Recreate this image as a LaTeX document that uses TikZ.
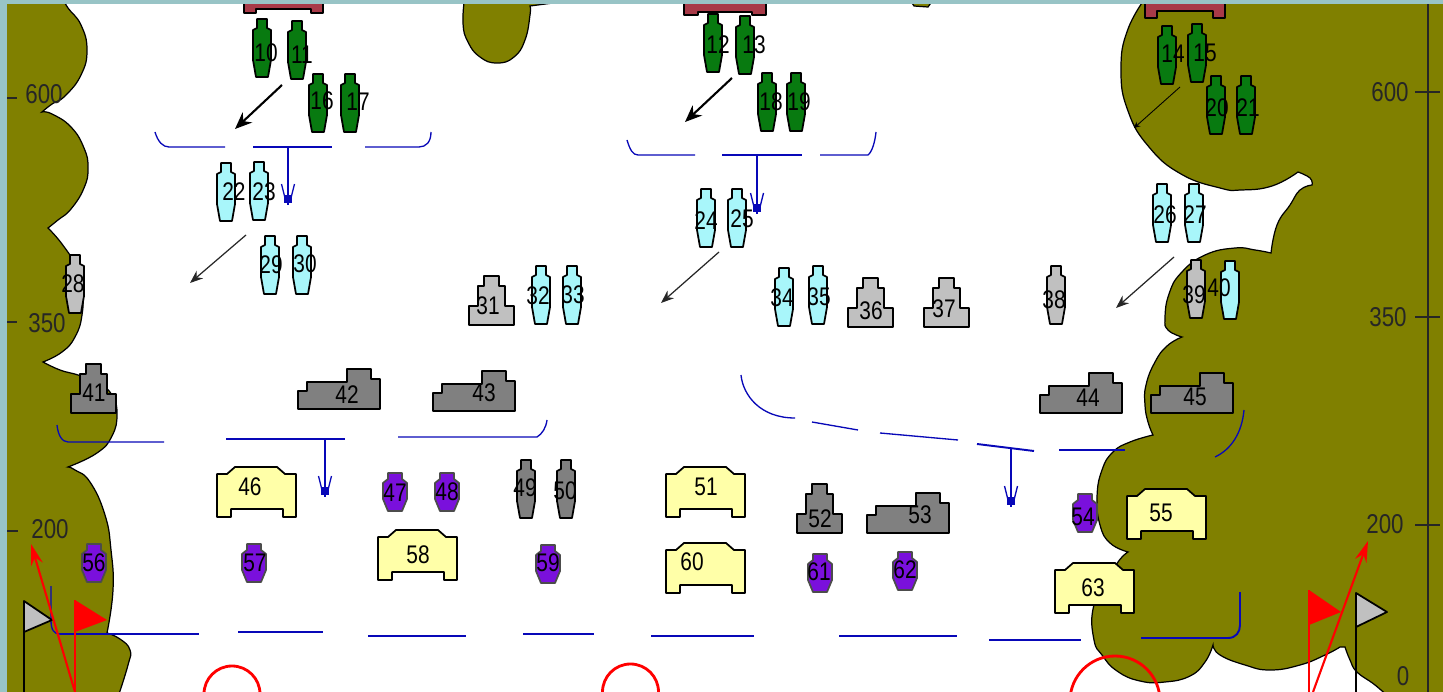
\documentclass[tikz,border=0pt]{standalone}
\usepackage{fontspec}
\setmainfont[FakeStretch=0.82]{Liberation Sans}
\usetikzlibrary{arrows.meta}
\definecolor{framecol}{HTML}{98C4C6}
\definecolor{terrain}{HTML}{808000}
\definecolor{troopgreen}{HTML}{087A10}
\definecolor{troopcyan}{HTML}{A8F6FA}
\definecolor{trooplight}{HTML}{C0C0C0}
\definecolor{troopdark}{HTML}{808080}
\definecolor{troopviolet}{HTML}{7A10DC}
\definecolor{troopyellow}{HTML}{FFFFA8}
\definecolor{troopbrick}{HTML}{A83A48}
\definecolor{lineblue}{HTML}{0808B8}
\tikzset{
	unitline/.style={draw=black,line width=1pt,line join=round},
	unitnum/.style={inner sep=0pt,font=\fontsize{14.5}{14.5}\selectfont},
	axisnum/.style={inner sep=0pt,font=\fontsize{15.5}{15.5}\selectfont,text=black!85},
	ground/.style={fill=terrain,draw=black,line width=.7pt},
	lobe/.style={smooth,tension=.8},
	front/.style={lineblue,line width=.75pt},
	frontbold/.style={lineblue,line width=1.1pt},
	advance/.style={black,line width=1.2pt,-{Stealth[length=.34cm,width=.28cm]}},
	advancethin/.style={black!85,line width=.7pt,-{Stealth[length=.26cm,width=.2cm]}},
	advancefaint/.style={black,line width=.5pt,-{Stealth[length=.12cm,width=.12cm]}},
	redmove/.style={red,line width=1.2pt,-{Stealth[length=.42cm,width=.24cm]}},
	ring/.style={red,line width=1.6pt}
}
% #1 colour, #2 #3 centre, #4 number, #5 #6 place of the number
\newcommand{\tallunit}[6]{
	\filldraw[unitline,fill=#1,shift={(#2,#3)}] (-5,-29)--(5,-29)--(5,-20)--(9,-18)--(9,12)--(6,29)--(-6,29)--(-9,12)--(-9,-18)--(-5,-20)--cycle;
	\node[unitnum] (u#4) at (#5,#6) {#4};
}
\newcommand{\shortunit}[5]{
	\filldraw[unitline,draw=black!70,fill=troopviolet,shift={(#1,#2)}] (-7,-19)--(7,-19)--(7,-13)--(12,-9)--(12,7)--(7,19)--(-7,19)--(-12,7)--(-12,-9)--(-7,-13)--cycle;
	\node[unitnum] (u#3) at (#4,#5) {#3};
}
% #2 #3 lower left corner
\newcommand{\stepunit}[6]{
	\filldraw[unitline,fill=#1,shift={(#2,#3)}] (0,0)--(0,-19)--(9,-19)--(9,-39)--(15,-39)--(15,-49)--(30,-49)--(30,-39)--(36,-39)--(36,-19)--(45,-19)--(45,0)--cycle;
	\node[unitnum] (u#4) at (#5,#6) {#4};
}
\newcommand{\wideunit}[5]{
	\filldraw[unitline,fill=troopdark,shift={(#1,#2)}] (0,0)--(0,-18)--(9,-18)--(9,-27)--(49,-27)--(49,-40)--(73,-40)--(73,-30)--(82,-30)--(82,0)--cycle;
	\node[unitnum] (u#3) at (#4,#5) {#3};
}
% #1 #2 upper left corner
\newcommand{\bedunit}[5]{
	\filldraw[unitline,fill=troopyellow,shift={(#1,#2)}] (18,0)--(60,0)--(68,7)--(79,7)--(79,50)--(66,50)--(66,42)--(14,42)--(14,50)--(0,50)--(0,7)--(10,7)--cycle;
	\node[unitnum] (u#3) at (#4,#5) {#3};
}
\newcommand{\frontarrow}[4]{
	\coordinate (#1a) at (#2,#3);
	\coordinate (#1b) at (#2,#4);
	\draw[front] (#1a)--(#1b);
	\draw[front] ([xshift=-.13cm,yshift=.42cm]#1b)--([xshift=-.05cm,yshift=.1cm]#1b) ([xshift=.13cm,yshift=.42cm]#1b)--([xshift=.05cm,yshift=.1cm]#1b);
	\fill[lineblue] ([xshift=-.08cm,yshift=.04cm]#1b) rectangle ([xshift=.08cm,yshift=.2cm]#1b);
}
\begin{document}
\begin{tikzpicture}[x=.02cm,y=-.02cm]
	\useasboundingbox (0,0) rectangle (1443,692);
	\clip (0,0) rectangle (1443,692);
	\fill[white] (0,0) rectangle (1443,692);

	% wooded ground
	\filldraw[ground]
		plot[lobe] coordinates {(62,-3)(68,8)(81,25)(87,50)(81,75)(65,96)(52,104)(42,112)}
		-- plot[lobe] coordinates {(42,112)(52,114)(71,127)(84,148)(88,168)(84,188)(71,209)(58,220)(48,228)}
		-- plot[lobe] coordinates {(48,228)(62,244)(75,265)(82,290)(82,315)(75,337)(62,352)(43,362)}
		-- plot[lobe] coordinates {(43,362)(60,370)(78,375)(97,382)(112,395)(117,414)(112,436)(97,453)(68,467)}
		-- plot[lobe] coordinates {(68,467)(75,470)(90,482)(105,515)(111,550)(113,590)(107,633)}
		-- plot[lobe] coordinates {(107,633)(120,639)(130,650)(128,665)(117,700)}
		-- (-10,700) -- (-10,-10) -- cycle;
	\filldraw[ground]
		plot[lobe] coordinates {(465,-5)(463,23)(468,42)(480,57)(497,63)(514,57)(525,40)(530,15)(530,6)}
		-- (553,3) -- cycle;
	\filldraw[ground] (910,0)--(914,6)--(928,7)--(933,0)--cycle;
	\filldraw[ground]
		plot[lobe] coordinates {(1149,-7)(1128,29)(1121,70)(1128,111)(1149,147)(1181,174)(1220,188)(1241,190)(1272,186)(1298,172)}
		-- plot[lobe] coordinates {(1298,172)(1310,178)(1312,185)}
		-- plot[lobe] coordinates {(1312,185)(1300,190)(1290,205)(1277,225)(1271,253)}
		-- plot[lobe] coordinates {(1271,253)(1255,250)(1235,248)(1205,255)(1181,273)(1169,294)(1165,318)(1168,330)(1182,337)}
		-- plot[lobe] coordinates {(1182,337)(1167,346)(1155,362)(1146,385)(1145,405)(1148,422)(1153,435)}
		-- plot[lobe] coordinates {(1153,435)(1130,442)(1113,452)(1102,470)(1097,497)(1100,525)(1110,543)(1128,552)}
		-- plot[lobe] coordinates {(1128,552)(1118,562)(1105,585)(1093,609)(1094,640)(1102,655)(1117,671)(1140,681)(1165,682)(1190,676)(1205,662)(1213,645)}
		-- plot[lobe] coordinates {(1213,645)(1220,655)(1245,665)(1270,670)(1300,665)(1325,655)(1340,647)}
		-- plot[lobe] coordinates {(1345,647)(1350,660)(1357,672)(1375,685)(1392,700)}
		-- (1460,700) -- (1460,-10) -- (1147,-10) -- cycle;

	% axes
	\draw[black!85,line width=.9pt] (1428,0)--(1428,692);
	\draw[black!85,line width=.7pt] (1415,92)--(1440,92) (1415,317)--(1440,317) (1415,525)--(1440,525);
	\draw[black!85,line width=.7pt] (7,98)--(17,98) (7,322)--(17,322) (7,531)--(18,531);
	\node[axisnum] (lsix) at (44,94) {600};
	\node[axisnum] (lthree) at (47,323) {350};
	\node[axisnum] (ltwo) at (50,529) {200};
	\node[axisnum] (rsix) at (1390,92) {600};
	\node[axisnum] (rthree) at (1388,317) {350};
	\node[axisnum] (rtwo) at (1385,524) {200};
	\node[axisnum] (rzero) at (1403,676) {0};

	% command posts
	\foreach \px/\pw/\pi/\pb/\pt in {244/79/12/13/9,684/82/14/15/12,1145/80/12/18/11}
		\filldraw[unitline,fill=troopbrick,shift={(\px,0)}] (0,0)--(0,\pb)--(\pi,\pb)--(\pi,\pt)--(\pw-\pi,\pt)--(\pw-\pi,\pb)--(\pw,\pb)--(\pw,0)--cycle;

	% fronts
	\draw[front] (155,132) .. controls (158,142) and (163,147) .. (169,147)--(225,147);
	\draw[frontbold] (253,147)--(332,147);
	\draw[front] (365,147)--(419,147) .. controls (426,147) and (431,142) .. (431,132);
	\draw[front] (627,140) .. controls (630,150) and (633,155) .. (638,155)--(695,155);
	\draw[front] (722,155)--(802,155);
	\draw[front] (820,155)--(868,155) .. controls (872,152) and (875,142) .. (876,132);
	\draw[front] (57,425) .. controls (58,435) and (62,442) .. (68,442)--(164,442);
	\draw[frontbold] (226,439)--(345,439);
	\draw[front] (398,437)--(537,437) .. controls (542,434) and (546,428) .. (547,420);
	\draw[front] (741,375) .. controls (743,395) and (760,418) .. (795,418);
	\draw[front] (812,422)--(858,430);
	\draw[front] (880,433)--(958,440);
	\draw[frontbold] (977,444)--(1034,451);
	\draw[frontbold] (1059,450)--(1125,450);
	\draw[front] (1215,457) .. controls (1232,449) and (1242,432) .. (1244,410);
	\draw[front] (51,586)--(51,620) .. controls (51,630) and (54,634) .. (60,634);
	\draw[frontbold] (60,634)--(199,634);
	\draw[frontbold] (238,632)--(323,632);
	\draw[front] (368,636)--(466,636);
	\draw[frontbold] (523,634)--(594,634);
	\draw[front] (651,636)--(754,636);
	\draw[front] (839,636)--(957,636);
	\draw[frontbold] (989,640)--(1081,640);
	\draw[frontbold] (1141,638)--(1228,638) .. controls (1236,638) and (1240,632) .. (1240,625)--(1240,592);
	\frontarrow{fa}{288}{147}{205}
	\frontarrow{fb}{757}{155}{214}
	\frontarrow{fc}{325}{439}{497}
	\frontarrow{fd}{1011}{448}{507}

	% units
	\foreach \ux/\uy/\un/\lx/\ly in {262/48/10/266/53,297/50/11/302/55,318/103/16/322/101,350/103/17/358/102,713/43/12/718/45,745/45/13/754/45,767/102/18/771/102,796/102/19/799/102,1167/55/14/1173/54,1197/53/15/1205/53,1216/105/20/1217/108,1246/105/21/1248/108}
		{\tallunit{troopgreen}{\ux}{\uy}{\un}{\lx}{\ly}}
	\foreach \ux/\uy/\un/\lx/\ly in {226/192/22/234/192,259/191/23/264/192,270/265/29/271/265,302/265/30/305/264,706/218/24/706/221,737/218/25/742/219,541/295/32/538/296,572/295/33/573/295,784/297/34/782/298,818/295/35/819/297,1162/213/26/1165/215,1194/213/27/1195/215}
		{\tallunit{troopcyan}{\ux}{\uy}{\un}{\lx}{\ly}}
	\foreach \ux/\uy/\un/\lx/\ly in {75/284/28/73/284,1056/295/38/1054/300,1196/289/39/1194/295}
		{\tallunit{trooplight}{\ux}{\uy}{\un}{\lx}{\ly}}
	\tallunit{troopcyan}{1230}{290}{40}{1219}{288}
	\tallunit{troopdark}{526}{489}{49}{525}{488}
	\tallunit{troopdark}{566}{489}{50}{565}{491}
	\foreach \ux/\uy/\un/\lx/\ly in {395/492/47/395/493,447/492/48/447/492,94/563/56/94/563,254/563/57/255/563,548/564/59/548/563,820/573/61/819/572,905/571/62/905/570,1085/513/54/1083/517}
		{\shortunit{\ux}{\uy}{\un}{\lx}{\ly}}
	\foreach \ux/\uy/\un/\lx/\ly in {469/325/31/488/306,848/327/36/871/311,924/327/37/944/309}
		{\stepunit{trooplight}{\ux}{\uy}{\un}{\lx}{\ly}}
	\stepunit{troopdark}{71}{413}{41}{94}{393}
	\stepunit{troopdark}{797}{533}{52}{820}{519}
	\foreach \ux/\uy/\un/\lx/\ly in {298/409/42/347/395,433/411/43/484/393,1040/413/44/1088/398,1151/413/45/1195/397,867/533/53/920/515}
		{\wideunit{\ux}{\uy}{\un}{\lx}{\ly}}
	\foreach \ux/\uy/\un/\lx/\ly in {217/467/46/250/487,378/530/58/418/555,666/467/51/706/487,666/543/60/692/562,1127/489/55/1161/513,1055/563/63/1093/588}
		{\bedunit{\ux}{\uy}{\un}{\lx}{\ly}}

	% moves
	\draw[advance] (282,85)--(235,129);
	\draw[advance] (732,78)--(685,122);
	\draw[advancethin] (246,235)--(190,283);
	\draw[advancethin] (719,252)--(661,303);
	\draw[advancethin] (1174,257)--(1116,308);
	\draw[advancefaint] (1180,87)--(1134,128);

	% flags and the rest
	\draw[black,line width=.9pt] (24,692)--(24,601);
	\filldraw[unitline,fill=trooplight] (24,601)--(52,620)--(24,632)--cycle;
	\draw[black,line width=.9pt] (1356,692)--(1356,593);
	\filldraw[unitline,fill=trooplight] (1356,593)--(1387,612)--(1356,627)--cycle;
	\draw[red,line width=1.2pt] (75,692)--(75,600);
	\fill[red] (75,600)--(107,620)--(75,632)--cycle;
	\draw[red,line width=1.2pt] (1309,692)--(1309,590);
	\fill[red] (1309,590)--(1341,612)--(1309,625)--cycle;
	\draw[redmove] (75,692)--(31,544);
	\draw[redmove] (1313,692)--(1368,541);
	\draw[ring] (232,694) circle (28);
	\draw[ring] (630.5,692) circle (28);
	\draw[ring] (1115,701) circle (45);

	% window frame
	\fill[framecol] (0,0) rectangle (1443,4);
	\fill[framecol] (0,0) rectangle (7,692);
\end{tikzpicture}
\end{document}
